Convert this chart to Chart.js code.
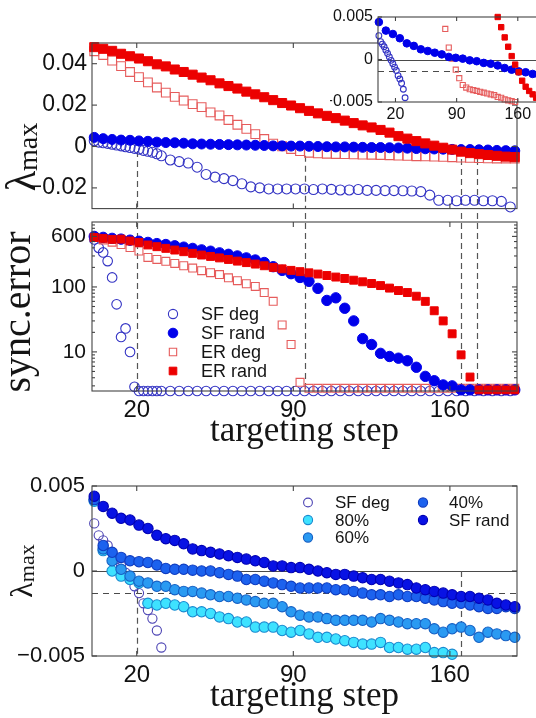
<!DOCTYPE html>
<html>
<head>
<meta charset="utf-8">
<title>targeting step</title>
<script src="https://cdn.jsdelivr.net/npm/chart.js@4.4.1/dist/chart.umd.min.js"></script>
<style>
  html, body { margin: 0; padding: 0; background: #fff; width: 536px; height: 718px; overflow: hidden; position: relative; }
  canvas { position: absolute; }
</style>
</head>
<body>
<canvas id="lamTop" width="536" height="216" style="left:0;top:0"></canvas>
<canvas id="syncErr" width="536" height="247" style="left:0;top:213px"></canvas>
<canvas id="lamBottom" width="536" height="258" style="left:0;top:460px"></canvas>
<canvas id="lamInset" width="230" height="126" style="left:330px;top:0"></canvas>
<script>
  // ---- DATA ----
  // targeting step of each plotted point
  const steps = [1,5,9,13,17,21,25,29,33,37,41,45,49,53,57,61,65,69,73,77,81,85,89,93,
    97,101,105,109,113,117,121,125,129,133,137,141,145,149,153,157,161,165,169,173,177,181,185,189];
  // SF deg is sampled more densely at the start
  const degSteps = [1,3,5,7,9,11,13,15,17,19,21,23,25,27,29,31,
    35,39,43,47,51,55,59,63,67,71,75,79,83,87,91,95,99,103,107,111,115,119,123,127,
    131,135,139,143,147,151,155,159,163,167,171,175,179,183,187];

  // largest Lyapunov exponent (top panel, inset, bottom panel)
  const sfDegLam = [0.0028,0.0021,0.0018,0.0015,0.0011,0.0007,0.0003,-0.0001,-0.0005,-0.0009,
    -0.0013,-0.0019,-0.0023,-0.0028,-0.0035,-0.0045,
    -0.0065,-0.0073,-0.008,-0.01,-0.0135,-0.0148,-0.0155,-0.0165,-0.018,-0.0195,
    -0.02,-0.0205,-0.0205,-0.0205,-0.0205,-0.0205,-0.0208,-0.0205,-0.0207,-0.021,
    -0.021,-0.0208,-0.0212,-0.0212,-0.0213,-0.0213,-0.0214,-0.0215,-0.0218,-0.0235,
    -0.026,-0.026,-0.0262,-0.026,-0.026,-0.0262,-0.0262,-0.0265,-0.0292];
  const sfRandLam = [0.0044,0.0038,0.0034,0.0031,0.003,0.0027,0.0025,0.0021,0.0019,0.0018,
    0.0016,0.0013,0.0012,0.0011,0.001,0.0009,0.0008,0.0007,0.0006,0.0005,
    0.0003,0.0003,0.0002,0.0002,0.0001,0.0,-0.0001,-0.0002,-0.0002,-0.0003,
    -0.0004,-0.0005,-0.0005,-0.0006,-0.0007,-0.0008,-0.001,-0.0011,-0.0012,-0.0013,
    -0.0014,-0.0015,-0.0015,-0.0016,-0.0017,-0.0019,-0.002,-0.0021];
  const erDegLam = [0.046,0.0442,0.0415,0.0388,0.036,0.0335,0.031,0.0285,0.026,0.024,
    0.0222,0.0205,0.019,0.0165,0.015,0.0128,0.0105,0.0085,0.006,0.0036,
    0.0014,0.0001,-0.0012,-0.0022,-0.003,-0.0033,-0.0035,-0.0036,-0.0037,-0.0038,
    -0.0039,-0.004,-0.0041,-0.0042,-0.0044,-0.0045,-0.0047,-0.0048,-0.0049,-0.005,
    -0.0052,-0.0054,-0.0055,-0.0056,-0.0057,-0.0058,-0.0058,-0.0058];
  const erRandLam = [0.048,0.0472,0.0462,0.0448,0.0436,0.0425,0.0412,0.0397,0.0387,0.0372,
    0.036,0.0347,0.0333,0.032,0.0305,0.0292,0.028,0.0265,0.0252,0.0238,
    0.0224,0.021,0.0198,0.0185,0.0172,0.016,0.0148,0.0137,0.0125,0.0113,
    0.0102,0.0092,0.008,0.0067,0.005,0.0038,0.0026,0.0015,0.0004,-0.0006,
    -0.0015,-0.0025,-0.0032,-0.0037,-0.0041,-0.0045,-0.0049,-0.0051];

  // synchronization error (middle panel)
  const sfDegSync = [540,400,340,250,140,54,17,23,10,2.9,2.5,2.5,2.5,2.5,2.5,2.5,
    2.5,2.5,2.5,2.5,2.5,2.5,2.5,2.5,2.5,2.5,
    2.5,2.5,2.5,2.5,2.5,2.5,2.5,2.5,2.5,2.5,
    2.5,2.5,2.5,2.5,2.5,2.5,2.5,2.5,2.5,2.5,
    2.5,2.5,2.5,2.5,2.5,2.5,2.5,2.5,2.5];
  const sfRandSync = [600,580,560,545,525,505,485,465,450,430,
    410,392,372,355,335,318,300,280,260,238,
    205,180,160,140,122,95,62,68,47,30,
    16,13,9.5,8.5,8.0,7.3,5.8,4.2,3.6,3.1,
    3.0,2.6,2.6,2.6,2.6,2.6,2.6,2.6];
  const erDegSync = [580,530,490,450,404,358,285,265,248,230,
    212,195,178,166,155,138,125,112,102,82,
    60,26,13,3.4,2.75,2.75,2.75,2.75,2.75,2.75,
    2.75,2.75,2.75,2.75,2.75,2.75,2.75,2.75,2.75,2.75,
    2.75,2.75,2.75,2.75,2.75,2.75,2.75,2.75];
  const erRandSync = [577,560,540,545,510,485,443,417,393,370,
    349,329,310,295,280,265,250,237,225,212,
    200,190,180,172,165,158,150,142,135,127,
    120,113,105,96,88,82,72,60,43,30,
    19,9,4.1,2.6,2.6,2.6,2.6,2.6];

  // bottom panel: SF network, targeting only part of the nodes
  const p80Lam = [0.0041,0.0012,0.0,-0.0003,-0.0005,-0.0007,-0.0019,-0.002,-0.0019,-0.002,
    -0.0021,-0.0024,-0.0024,-0.0025,-0.0027,-0.0028,-0.003,-0.003,-0.0033,-0.0033,
    -0.0033,-0.0035,-0.0036,-0.0035,-0.0037,-0.0039,-0.0039,-0.004,-0.0041,-0.0042,
    -0.0043,-0.0043,-0.0042,-0.0045,-0.0045,-0.0046,-0.0046,-0.0045,-0.0048,-0.0048,
    -0.0049,-0.0052,-0.0053,-0.0054,-0.0055,-0.0056,-0.0057,-0.0058];
  const p60Lam = [0.0042,0.0013,0.0006,0.0001,-0.0003,-0.0006,-0.0007,-0.0009,-0.0009,-0.0011,
    -0.0012,-0.0012,-0.0013,-0.0014,-0.0015,-0.0015,-0.0016,-0.0017,-0.0018,-0.0019,
    -0.0019,-0.0021,-0.0024,-0.0026,-0.0027,-0.0027,-0.0028,-0.0029,-0.0029,-0.0029,
    -0.0029,-0.003,-0.0028,-0.0029,-0.003,-0.0031,-0.0031,-0.0031,-0.0034,-0.0036,
    -0.0034,-0.0033,-0.0035,-0.0039,-0.0036,-0.0037,-0.0038,-0.0039];
  const p40Lam = [0.0042,0.0015,0.0011,0.0008,0.0006,0.00055,0.0005,0.00035,0.00015,0.0001,
    0.0001,0.00005,0.0,0.0,-0.0001,-0.0002,-0.0003,-0.0005,-0.0005,-0.0006,
    -0.0007,-0.0008,-0.0009,-0.001,-0.001,-0.001,-0.001,-0.0011,-0.0011,-0.0012,
    -0.0013,-0.0014,-0.0014,-0.0015,-0.0014,-0.0015,-0.0015,-0.0016,-0.0017,-0.0018,
    -0.0019,-0.0019,-0.002,-0.0021,-0.0022,-0.0022,-0.0021,-0.0022];

  const lamThreshold = -0.0013;
  const dropSteps = [20, 95, 165, 172];   // sync error reaches its floor
  const dropStepsBottom = [20, 165];
  const stepTicks = [20, 90, 160];
  const lamTicksTop = [-0.02, 0, 0.02, 0.04];
  const lamTicksSmall = [-0.005, 0, 0.005];
  const syncTicks = [10, 100, 600];
  const syncMinor = [3,4,5,6,7,8,9,20,30,40,50,60,70,80,90,200,300,400,500,700,800,900];

  // ---- STYLES ----
  const SANS = '"Liberation Sans", Arial, sans-serif';
  const SERIF = '"Liberation Serif", "Times New Roman", serif';
  const look = {
    sfDeg:   { shape: 'circle', fill: 'rgba(0,0,0,0)', edge: '#3434c4', lw: 1.1 },
    sfRand:  { shape: 'circle', fill: '#0000ea', edge: '#0000ea', lw: 1 },
    erDeg:   { shape: 'rect', fill: 'rgba(0,0,0,0)', edge: '#e65c5c', lw: 1.1 },
    erRand:  { shape: 'rect', fill: '#ec0000', edge: '#ec0000', lw: 1 },
    sfDegC:  { shape: 'circle', fill: 'rgba(0,0,0,0)', edge: '#4c44b4', lw: 1.1 },
    p80:     { shape: 'circle', fill: '#3ee2ff', edge: '#1a8ad0', lw: 1.1 },
    p60:     { shape: 'circle', fill: '#2a9af2', edge: '#1660c4', lw: 1.1 },
    p40:     { shape: 'circle', fill: '#1c62ee', edge: '#0f3cc0', lw: 1.1 },
    sfRandC: { shape: 'circle', fill: '#0812e4', edge: '#0000b4', lw: 1.1 },
  };

  function fmtLam(v) {
    if (v === 0) return '0';
    return (v < 0 ? '\u2212' : '') + Math.abs(v).toString();
  }

  // only points inside the axis limits are drawn (like the original)
  function pts(xs, ys, lo, hi) {
    const out = [];
    xs.forEach((x, i) => {
      const y = ys[i];
      if (y >= lo && y <= hi) out.push({ x, y });
    });
    return out;
  }

  function ds(xs, ys, range, st, r) {
    return {
      data: pts(xs, ys, range[0], range[1]),
      showLine: false,
      clip: false,
      pointStyle: st.shape,
      pointRadius: r,
      pointBackgroundColor: st.fill,
      pointBorderColor: st.edge,
      pointBorderWidth: st.lw,
      backgroundColor: st.fill,
      borderColor: st.edge,
      borderWidth: st.lw,
    };
  }

  function axisOptions(p) {
    return {
      responsive: false,
      animation: false,
      events: [],
      layout: { padding: p.padding },
      plugins: { legend: { display: false }, tooltip: { enabled: false } },
      scales: {
        x: {
          type: 'linear', min: 0, max: 190,
          grid: { display: false, drawTicks: false },
          border: { display: false },
          afterBuildTicks: s => { s.ticks = stepTicks.map(v => ({ value: v })); },
          afterFit: s => { s.height = p.xHeight; s.paddingLeft = 0; s.paddingRight = 0; },
          ticks: {
            display: p.xSize > 0, autoSkip: false, maxRotation: 0, padding: p.xPad || 0,
            color: '#111', font: { family: SANS, size: p.xSize || 12 }
          }
        },
        y: {
          type: p.log ? 'logarithmic' : 'linear', min: p.min, max: p.max,
          grid: { display: false, drawTicks: false },
          border: { display: false },
          afterBuildTicks: s => { s.ticks = p.ticks.map(v => ({ value: v })); },
          afterFit: s => { s.width = p.yWidth; s.paddingTop = 0; s.paddingBottom = 0; },
          ticks: {
            autoSkip: false, padding: p.yPad, color: '#111',
            font: { family: SANS, size: p.ySize },
            callback: p.fmt
          }
        }
      }
    };
  }

  // ---- DECORATION (box, inward ticks, reference lines, titles, legends) ----
  const decor = {
    lamTop: {
      vLines: [
        { value: dropSteps[0], top: -0.0022 },
        { value: dropSteps[1], top: -0.0045 },
        { value: dropSteps[2], top: -0.006 },
        { value: dropSteps[3], top: -0.006 },
      ],
      yTitle: { x: 35, y: 157, parts: [
        { text: 'λ', font: '42px ' + SERIF },
        { text: 'max', font: '28px ' + SERIF, dy: 2 } ] }
    },
    syncErr: {
      vLines: dropSteps.map(s => ({ value: s })),
      vExtend: 9,
      minorY: syncMinor,
      xTitle: { text: 'targeting step', font: '35px ' + SERIF, offset: 50 },
      yTitle: { x: 30, y: 99, parts: [{ text: 'sync.error', font: '40px ' + SERIF }] },
      legend: [
        { label: 'SF deg',  st: look.sfDeg,  r: 4.6, x: 173, tx: 201, y: 101 },
        { label: 'SF rand', st: look.sfRand, r: 4.8, x: 173, tx: 201, y: 120 },
        { label: 'ER deg',  st: look.erDeg,  r: 5.2, x: 173, tx: 201, y: 139 },
        { label: 'ER rand', st: look.erRand, r: 5.4, x: 173, tx: 201, y: 158 },
      ],
      legendFont: '18px ' + SANS
    },
    lamBottom: {
      hLines: [{ value: 0, dash: [] }, { value: lamThreshold, dash: [6, 5] }],
      vLines: [
        { value: dropStepsBottom[0], top: -0.0004 },
        { value: dropStepsBottom[1], top: 0.0 },
      ],
      xTitle: { text: 'targeting step', font: '35px ' + SERIF, offset: 50 },
      yTitle: { x: 32, y: 111, parts: [
        { text: 'λ', font: '32px ' + SERIF },
        { text: 'max', font: '22px ' + SERIF, dy: 2 } ] },
      legend: [
        { label: 'SF deg',  st: look.sfDegC,  r: 4.4, x: 308, tx: 335, y: 42.5 },
        { label: '80%',     st: look.p80,     r: 4.6, x: 308, tx: 335, y: 60 },
        { label: '60%',     st: look.p60,     r: 4.6, x: 308, tx: 335, y: 77.5 },
        { label: '40%',     st: look.p40,     r: 4.6, x: 423, tx: 449, y: 42.5 },
        { label: 'SF rand', st: look.sfRandC, r: 4.6, x: 423, tx: 449, y: 60 },
      ],
      legendFont: '17px ' + SANS
    },
    lamInset: {
      whiteBox: true,
      tickLen: 4,
      hLines: [{ value: 0, dash: [] }, { value: lamThreshold, dash: [6, 5] }]
    }
  };

  function drawMarker(ctx, st, r, x, y) {
    ctx.save();
    ctx.fillStyle = st.fill;
    ctx.strokeStyle = st.edge;
    ctx.lineWidth = st.lw;
    ctx.setLineDash([]);
    Chart.helpers.drawPoint(ctx, { pointStyle: st.shape, radius: r, borderWidth: st.lw, rotation: 0 }, x, y);
    ctx.restore();
  }

  function seg(ctx, x1, y1, x2, y2) {
    ctx.beginPath(); ctx.moveTo(x1, y1); ctx.lineTo(x2, y2); ctx.stroke();
  }

  const matlabPlugin = {
    id: 'matlabLook',
    beforeDraw(chart) {
      const o = decor[chart.canvas.id];
      if (!o || !o.whiteBox) return;
      const { ctx, chartArea: a } = chart;
      ctx.save();
      ctx.fillStyle = '#fff';
      ctx.fillRect(a.left, a.top, a.right - a.left, a.bottom - a.top);
      ctx.restore();
    },
    beforeDatasetsDraw(chart) {
      const o = decor[chart.canvas.id];
      if (!o) return;
      const { ctx, chartArea: a, scales: { x, y } } = chart;
      ctx.save();
      ctx.strokeStyle = '#4a4a4a';
      ctx.lineWidth = 1.1;
      (o.hLines || []).forEach(h => {
        const py = Math.round(y.getPixelForValue(h.value)) + 0.5;
        ctx.setLineDash(h.dash);
        seg(ctx, a.left, py, a.right, py);
      });
      ctx.strokeStyle = '#555';
      ctx.lineWidth = 1.2;
      ctx.setLineDash([6, 4]);
      (o.vLines || []).forEach(v => {
        const px = Math.round(x.getPixelForValue(v.value)) + 0.5;
        const top = v.top === undefined ? a.top - (o.vExtend || 0) : y.getPixelForValue(v.top);
        seg(ctx, px, top, px, a.bottom);
      });
      ctx.restore();
    },
    afterDatasetsDraw(chart) {
      const o = decor[chart.canvas.id] || {};
      const { ctx, chartArea: a, scales: { x, y } } = chart;
      const L = o.tickLen || 5;
      ctx.save();
      ctx.strokeStyle = '#444';
      ctx.lineWidth = 1.1;
      ctx.setLineDash([]);
      ctx.strokeRect(a.left, a.top, a.right - a.left, a.bottom - a.top);
      y.ticks.forEach(t => {
        const py = y.getPixelForValue(t.value);
        seg(ctx, a.left, py, a.left + L, py);
        seg(ctx, a.right, py, a.right - L, py);
      });
      (o.minorY || []).forEach(v => {
        const py = y.getPixelForValue(v);
        seg(ctx, a.left, py, a.left + 3, py);
        seg(ctx, a.right, py, a.right - 3, py);
      });
      x.ticks.forEach(t => {
        const px = x.getPixelForValue(t.value);
        seg(ctx, px, a.bottom, px, a.bottom - L);
        seg(ctx, px, a.top, px, a.top + L);
      });
      ctx.restore();
    },
    afterDraw(chart) {
      const o = decor[chart.canvas.id];
      if (!o) return;
      const { ctx, chartArea: a } = chart;
      ctx.save();
      ctx.fillStyle = '#151515';
      if (o.xTitle) {
        ctx.font = o.xTitle.font;
        ctx.textAlign = 'center';
        ctx.textBaseline = 'alphabetic';
        ctx.fillText(o.xTitle.text, (a.left + a.right) / 2, a.bottom + o.xTitle.offset);
      }
      if (o.yTitle) {
        ctx.save();
        ctx.translate(o.yTitle.x, o.yTitle.y);
        ctx.rotate(-Math.PI / 2);
        ctx.textAlign = 'left';
        ctx.textBaseline = 'alphabetic';
        const widths = o.yTitle.parts.map(p => { ctx.font = p.font; return ctx.measureText(p.text).width; });
        let cx = -widths.reduce((s, w) => s + w, 0) / 2;
        o.yTitle.parts.forEach((p, i) => {
          ctx.font = p.font;
          ctx.fillText(p.text, cx, p.dy || 0);
          cx += widths[i];
        });
        ctx.restore();
      }
      (o.legend || []).forEach(it => {
        drawMarker(ctx, it.st, it.r, it.x, it.y);
        ctx.fillStyle = '#151515';
        ctx.font = o.legendFont;
        ctx.textAlign = 'left';
        ctx.textBaseline = 'middle';
        ctx.fillText(it.label, it.tx, it.y + 1);
      });
      ctx.restore();
    }
  };
  Chart.register(matlabPlugin);

  // ---- TOP PANEL ----
  const topRange = [-0.03, 0.05];
  new Chart(document.getElementById('lamTop'), {
    type: 'scatter',
    data: { datasets: [
      ds(steps, erRandLam, topRange, look.erRand, 6.4),
      ds(steps, sfRandLam, topRange, look.sfRand, 5),
      ds(steps, erDegLam, topRange, look.erDeg, 6.2),
      ds(degSteps, sfDegLam, topRange, look.sfDeg, 5),
    ]},
    options: axisOptions({
      padding: { top: 43, right: 19, left: 0, bottom: 0 },
      xHeight: 3, xSize: 0,
      yWidth: 92, ySize: 23, yPad: 5,
      min: topRange[0], max: topRange[1], ticks: lamTicksTop, fmt: fmtLam
    })
  });

  // ---- MIDDLE PANEL ----
  const syncRange = [2.5, 1000];
  new Chart(document.getElementById('syncErr'), {
    type: 'scatter',
    data: { datasets: [
      ds(steps, erRandSync, syncRange, look.erRand, 5.6),
      ds(steps, sfRandSync, syncRange, look.sfRand, 5.2),
      ds(steps, erDegSync, syncRange, look.erDeg, 5.6),
      ds(degSteps, sfDegSync, syncRange, look.sfDeg, 4.8),
    ]},
    options: axisOptions({
      padding: { top: 9, right: 19, left: 0, bottom: 0 },
      xHeight: 69, xSize: 24, xPad: 5,
      yWidth: 92, ySize: 21, yPad: 6,
      log: true, min: syncRange[0], max: syncRange[1], ticks: syncTicks, fmt: v => String(v)
    })
  });

  // ---- BOTTOM PANEL ----
  const smallRange = [-0.005, 0.005];
  new Chart(document.getElementById('lamBottom'), {
    type: 'scatter',
    data: { datasets: [
      ds(steps, sfRandLam, smallRange, look.sfRandC, 5.2),
      ds(steps, p40Lam, smallRange, look.p40, 5.2),
      ds(steps, p60Lam, smallRange, look.p60, 5.2),
      ds(steps, p80Lam, smallRange, look.p80, 5.2),
      ds(degSteps, sfDegLam, smallRange, look.sfDegC, 4.6),
    ]},
    options: axisOptions({
      padding: { top: 26, right: 19, left: 0, bottom: 0 },
      xHeight: 62, xSize: 24, xPad: 5,
      yWidth: 92, ySize: 22, yPad: 7,
      min: smallRange[0], max: smallRange[1], ticks: lamTicksSmall, fmt: fmtLam
    })
  });

  // ---- INSET (zoom of the top panel) ----
  const everyOther = (_, i) => i % 2 === 0;
  new Chart(document.getElementById('lamInset'), {
    type: 'scatter',
    data: { datasets: [
      ds(steps, erRandLam, smallRange, look.erRand, 3.8),
      ds(steps.filter(everyOther), sfRandLam.filter(everyOther), smallRange, look.sfRand, 3.8),
      ds(steps, erDegLam, smallRange, look.erDeg, 3.6),
      ds(degSteps, sfDegLam, smallRange, look.sfDeg, 2.9),
    ]},
    options: axisOptions({
      padding: { top: 17, right: 16, left: 0, bottom: 0 },
      xHeight: 24, xSize: 16, xPad: 3,
      yWidth: 48, ySize: 16, yPad: 5,
      min: smallRange[0], max: smallRange[1], ticks: lamTicksSmall, fmt: fmtLam
    })
  });
</script>
</body>
</html>
